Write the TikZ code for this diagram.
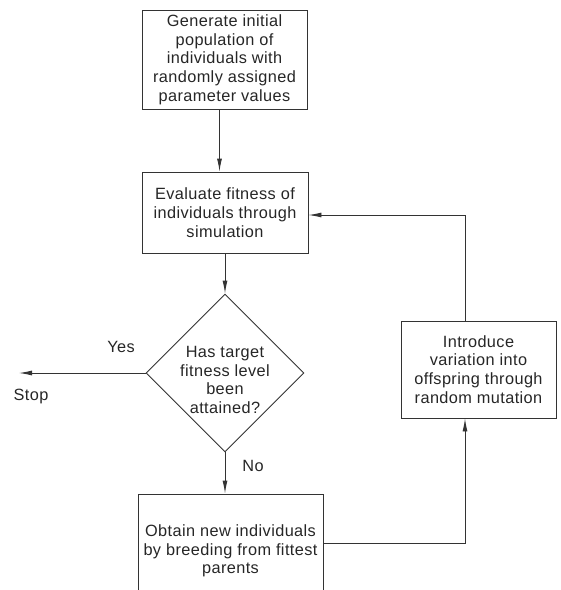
\documentclass[tikz,border=0pt]{standalone}
\usepackage{fontspec}
\setmainfont{Liberation Sans}[LetterSpace=2.5]
\usetikzlibrary{arrows.meta,shapes.geometric}
\definecolor{ln}{gray}{0.2}
\begin{document}
\begin{tikzpicture}[x=1pt,y=-1pt,
  txt/.style={font=\fontsize{16.3}{18.7}\selectfont, text=black!85},
  box/.style={draw=ln, line width=0.9pt, inner sep=0pt, align=center, txt},
  lbl/.style={inner sep=0pt, txt},
  conn/.style={draw=ln, line width=0.9pt, -{Latex[length=13pt,width=5pt]}},
  plainline/.style={line width=0.9pt}]
\useasboundingbox (0,0) rectangle (561,590);
\clip (0,0) rectangle (561,590);
\node[box, minimum width=165pt, minimum height=99pt] (gen) at (224.5,59.5)
  {Generate initial\\population of\\individuals with\\randomly assigned\\parameter values};
\node[box, minimum width=166pt, minimum height=81pt] (eval) at (225,212.5)
  {Evaluate fitness of\\individuals through\\simulation};
\node[draw=ln, diamond, line width=0.9pt, aspect=1, inner sep=0pt, minimum width=158pt, minimum height=158pt] (dec) at (225,373) {};
\node[lbl, align=center] (dectext) at (225,380) {Has target\\fitness level\\been\\attained?};
\node[box, minimum width=185pt, minimum height=114pt] (breed) at (230.5,551)
  {Obtain new individuals\\by breeding from fittest\\parents};
\node[box, minimum width=155pt, minimum height=97pt] (mut) at (478.5,369.5)
  {Introduce\\variation into\\offspring through\\random mutation};
\node[lbl] (yes) at (121,347) {Yes};
\node[lbl] (stoplbl) at (31,396) {Stop};
\node[lbl] (no) at (253,466) {No};
\coordinate (stop) at (19,373);
\coordinate (c1) at (465,543);
\coordinate (c2) at (465,215);
\draw[conn] ([xshift=-5pt]gen.south) -- ([xshift=-5pt]gen.south |- eval.north);
\draw[conn] (eval.south) -- (dec.north);
\draw[conn] (dec.west) -- (stop);
\draw[conn] (dec.south) -- (dec.south |- breed.north);
\draw[conn] (breed.east |- c1) -- (c1) -- (c1 |- mut.south);
\draw[conn] (c2 |- mut.north) -- (c2) -- (c2 -| eval.east);
\end{tikzpicture}
\end{document}
